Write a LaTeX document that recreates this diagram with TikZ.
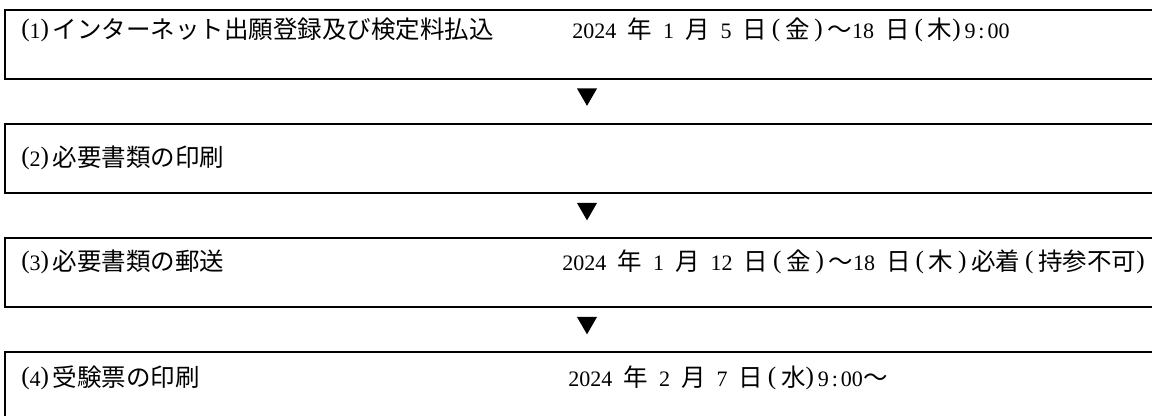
\documentclass[tikz,border=0pt]{standalone}
\usepackage{fontspec}
\setmainfont{Liberation Serif}[Scale=0.9, WordSpace=2]
\newfontfamily\jpfont{Noto Sans CJK JP}
\usetikzlibrary{positioning,shapes.geometric}
\newcommand{\jp}[1]{{\jpfont #1}}
% half-width brackets (labels) and wider ones (dates)
\newcommand{\bigp}[1]{\raisebox{0.8pt}{\fontsize{14pt}{15pt}\selectfont #1}}
\newcommand{\lpar}{\makebox[6.125pt][r]{\bigp{(}}}
\newcommand{\rpar}{\makebox[6.125pt][l]{\bigp{)}}}
\newcommand{\wlpar}{\makebox[9pt]{\bigp{(}}}
\newcommand{\wrpar}{\makebox[9pt]{\bigp{)}}}
\newcommand{\tcol}{\makebox[6pt]{:}}

\begin{document}
\begin{tikzpicture}[x=0.5pt, y=-0.5pt, node distance=22.5pt,
			stepbox/.style={draw, rectangle, line width=1.2pt, inner sep=0pt, outer sep=0pt, minimum width=582pt, minimum height=34.5pt},
			marker/.style={regular polygon, regular polygon sides=3, shape border rotate=180, fill=black, draw=none, inner sep=0pt, outer sep=0pt, minimum size=11.55pt},
			steptext/.style={anchor=west, inner sep=0pt, font=\fontsize{12.25pt}{15pt}\selectfont}
			]
			\clip (0,0) rectangle (1152,416);
			
			\node[stepbox, anchor=north west](s1) at (5,10) {};
			\node[stepbox](s2) [below = of s1] {};
			\node[stepbox](s3) [below = of s2] {};
			\node[stepbox](s4) [below = of s3] {};
			
			\node[marker](m1) [below = 4.75pt of s1] {};
			\node[marker](m2) [below = 5pt of s2] {};
			\node[marker](m3) [below = 5pt of s3] {};
			
			\node[steptext](l1) at ([shift={(12,20)}]s1.north west) {\lpar 1\rpar\jp{インターネット出願登録及び検定料払込}};
			\node[steptext](d1) at ([shift={(567,20)}]s1.north west) {2024 \jp{年} 1 \jp{月} 5 \jp{日}\wlpar\jp{金}\wrpar\jp{～}18 \jp{日}\wlpar\jp{木}\rpar 9\tcol 00};
			
			\node[steptext](l2) at ([shift={(12,34)}]s2.north west) {\lpar 2\rpar\jp{必要書類の印刷}};
			
			\node[steptext](l3) at ([shift={(12,24)}]s3.north west) {\lpar 3\rpar\jp{必要書類の郵送}};
			\node[steptext](d3) at ([shift={(557,24)}]s3.north west) {2024 \jp{年} 1 \jp{月} 12 \jp{日}\wlpar\jp{金}\wrpar\jp{～}18 \jp{日}\wlpar\jp{木}\wrpar\jp{必着}\wlpar\jp{持参不可}\rpar};
			
			\node[steptext](l4) at ([shift={(12,26)}]s4.north west) {\lpar 4\rpar\jp{受験票の印刷}};
			\node[steptext](d4) at ([shift={(563,26)}]s4.north west) {2024 \jp{年} 2 \jp{月} 7 \jp{日}\wlpar\jp{水}\rpar 9\tcol 00\jp{～}};
			
\end{tikzpicture}
\end{document}
